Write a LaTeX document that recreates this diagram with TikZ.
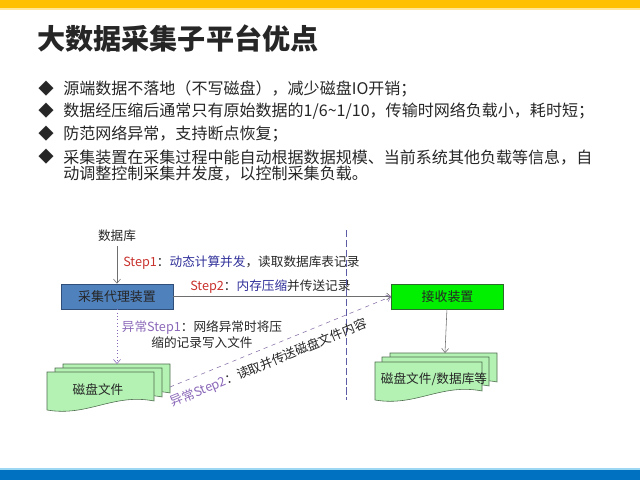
\documentclass[tikz,border=0pt]{standalone}
\usepackage{fontspec}
\newfontfamily\cjk{Noto Sans CJK SC}
\usetikzlibrary{arrows.meta, positioning, calc}

\definecolor{barYellow}{HTML}{FFC000}
\definecolor{barPale}{HTML}{FFE699}
\definecolor{barBlue}{HTML}{0070C0}
\definecolor{barCyan}{HTML}{9DD8F2}
\definecolor{ink}{HTML}{262626}
\definecolor{agentFill}{HTML}{4F81BD}
\definecolor{agentLine}{HTML}{2F4F7A}
\definecolor{recvFill}{HTML}{00F000}
\definecolor{recvLine}{HTML}{2D6B2D}
\definecolor{diskFill}{HTML}{B3F2B3}
\definecolor{diskLine}{HTML}{4D6B4D}
\definecolor{stepRed}{HTML}{C8322D}
\definecolor{stepNavy}{HTML}{30309A}
\definecolor{errPurple}{HTML}{8A68B8}
\definecolor{cutLine}{HTML}{5C5CA6}
\definecolor{flowGray}{HTML}{6E6E6E}

\tikzset{
  pics/disksheet/.style args={#1/#2}{code={
    \draw[diskLine, fill=diskFill] (0,0) -- (#1,0) -- (#1,#2-9)
      .. controls ({0.62*#1},#2-17) and ({0.38*#1},#2+7) .. (0,#2) -- cycle;
  }}
}

\begin{document}
\begin{tikzpicture}[x=0.025cm, y=-0.025cm,
  every node/.style={inner sep=0pt, text=ink},
  bullettext/.style={font=\cjk\fontsize{11.4}{12}\selectfont, anchor=west, align=left},
  tag/.style={font=\cjk\fontsize{9}{11.3}\selectfont},
  devbox/.style={draw, thin, minimum width=2.8cm, minimum height=0.625cm,
    font=\cjk\fontsize{9.2}{11}\selectfont},
  flow/.style={draw=flowGray, -{Straight Barb[length=3pt, width=5pt]}}
]
\useasboundingbox (0,0) rectangle (640,480);

% top and bottom bars
\fill[barYellow] (0,0) rectangle (640,7.5);
\fill[barPale] (0,7.5) rectangle (640,9.5);
\fill[barCyan] (0,467.5) rectangle (640,469.5);
\fill[barBlue] (0,469.5) rectangle (640,480);

% title
\node (title) [anchor=west, font=\cjk\fontsize{20}{24}\selectfont\bfseries]
  at (37,39) {大数据采集子平台优点};

% bullet list
\foreach \y [count=\i] in {89,111,134,157}
  \node (dot\i) [font=\cjk\fontsize{11}{12}\selectfont] at (46,\y) {◆};
\node (item1) [bullettext] at (63,89) {源端数据不落地（不写磁盘），减少磁盘IO开销；};
\node (item2) [bullettext] at (63,111) {数据经压缩后通常只有原始数据的1/6\char"007E 1/10，传输时网络负载小，耗时短；};
\node (item3) [bullettext] at (63,134) {防范网络异常，支持断点恢复；};
\node (item4) [bullettext] at (63,165.5)
  {采集装置在采集过程中能自动根据数据规模、当前系统其他负载等信息，自\\
   动调整控制采集并发度，以控制采集负载。};

% devices
\node (dbsrc) [tag, inner sep=3pt] at (117,236) {数据库};
\node (agent) [devbox, fill=agentFill, draw=agentLine] at (117,296.5) {采集代理装置};
\node (recv) [devbox, fill=recvFill, draw=recvLine] at (447.5,296.5) {接收装置};

% disk stacks
\pic at (63,364) {disksheet=107/38};
\pic at (55,368) {disksheet=107/38};
\pic at (47,372) {disksheet=107/38};
\node (ldisk) [tag] at (98,390) {磁盘文件};
\pic at (390,353) {disksheet=107/38};
\pic at (382,357) {disksheet=107/38};
\pic at (375,362) {disksheet=107/38};
\node (rdisk) [tag] at (434,379) {磁盘文件/数据库等};

% step labels
\node (step1) [tag, anchor=west] at (123,263)
  {\textcolor{stepRed}{Step1}：\textcolor{stepNavy}{动态计算并发}，读取数据库表记录};
\node (step2) [tag, anchor=west] at (190,287)
  {\textcolor{stepRed}{Step2}：\textcolor{stepNavy}{内存压缩}并传送记录};
\node (err1) [tag, align=center] at (202,335)
  {\textcolor{errPurple}{异常Step1}：网络异常时将压\\缩的记录写入文件};

% connectors
\coordinate (ldtop) at (117,364);
\coordinate (ldedge) at (170,387);
\coordinate (rdtop) at (445,353);
\coordinate (cuttop) at (346,230);
\coordinate (cutbot) at (346,400);

\draw[cutLine, dash pattern=on 5pt off 2pt] (cuttop) -- (cutbot);
\draw[flow] (dbsrc) -- (agent);
\draw[flow] (agent) -- (recv);
\draw[flow] (recv) -- (rdtop);
\draw[flow, draw=errPurple, dotted] (agent) -- (ldtop);
\draw[flow, draw=errPurple!70!gray, dashed] (ldedge) -- node (err2) [tag, pos=0.42, sloped, below=6pt]
  {\textcolor{errPurple}{异常Step2}：读取并传送磁盘文件内容} (recv.west);

\end{tikzpicture}
\end{document}
